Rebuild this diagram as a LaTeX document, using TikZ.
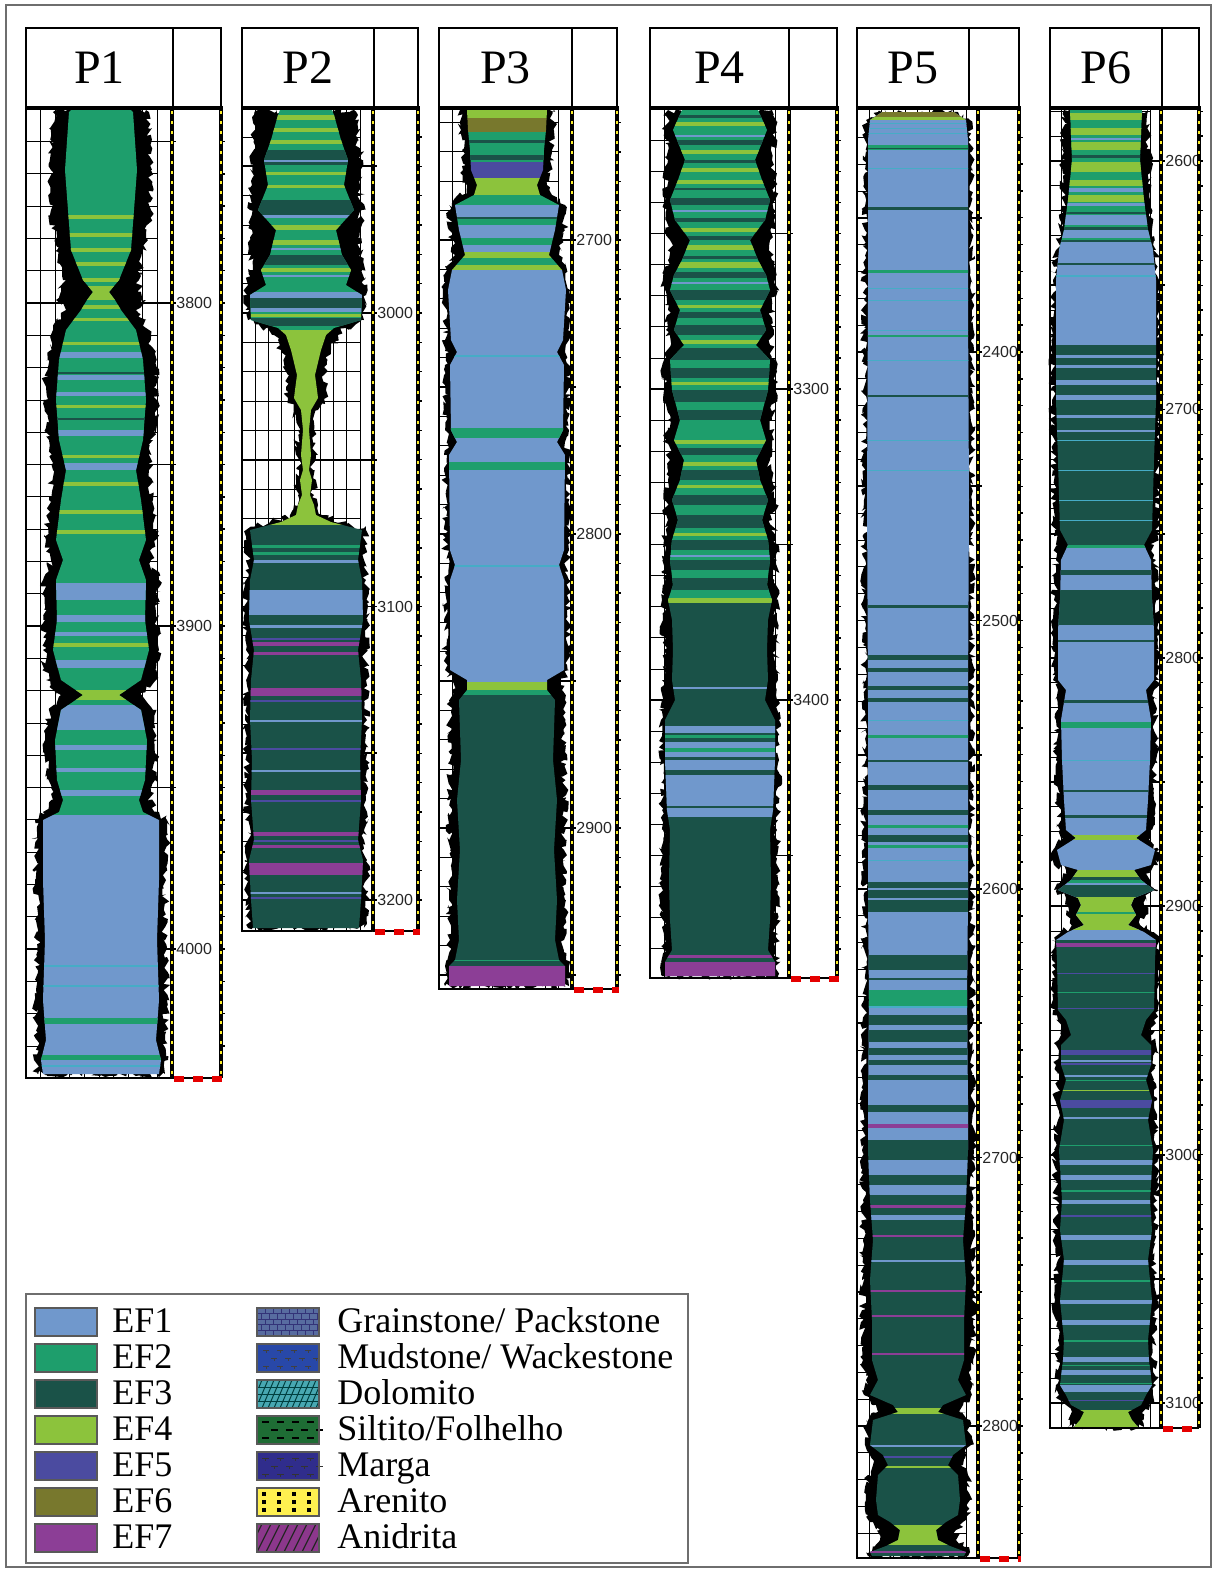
\documentclass[tikz,border=0pt]{standalone}
\usepackage{fontspec}
\setmainfont{Liberation Serif}
\newfontfamily\depthfont{Liberation Sans}
\usepackage{tikz}
\usetikzlibrary{decorations.pathmorphing}

\definecolor{ef1}{RGB}{112,152,204}
\definecolor{ef2}{RGB}{30,158,108}
\definecolor{ef3}{RGB}{26,82,72}
\definecolor{ef4}{RGB}{140,195,60}
\definecolor{ef5}{RGB}{75,75,160}
\definecolor{ef6}{RGB}{120,120,45}
\definecolor{ef7}{RGB}{140,62,150}
\definecolor{efs}{RGB}{70,172,198}
\definecolor{trackyel}{RGB}{250,235,40}
\definecolor{framegray}{RGB}{110,110,110}

\tikzset{
  hdrbox/.style={draw=black, line width=1pt},
  gridthin/.style={black, line width=0.4pt},
  gridthick/.style={black, line width=0.9pt},
  logedge/.style={black, line width=1.1pt},
  welltitle/.style={font=\fontsize{24}{24}\selectfont, inner sep=0pt},
  depthlbl/.style={font=\depthfont\fontsize{8}{8}\selectfont, inner sep=0pt, anchor=west, text=black!85},
  legtxt/.style={font=\fontsize{18}{18}\selectfont, inner sep=0pt, anchor=west, text height=12pt, text depth=2pt},
  swatch/.style={draw=black!65, line width=0.6pt},
  fuzz/.style={fill=black, decorate, decoration={random steps, segment length=1.6pt, amplitude=1.9pt}},
}

% dashed track line (black with yellow dashes)
\newcommand{\trackline}[1]{%
  \draw[black, line width=1.6pt] (#1,108) -- (#1,\wB);
  \draw[trackyel, line width=0.8pt, dash pattern=on 1.3pt off 3.7pt] (#1,111) -- (#1,\wB);
}

% one well: grid, log shape, facies bands, tracks, header
\newcommand{\drawwell}{%
  \gdef\wrev{}%
  \foreach \a in \wprof {\ifx\wrev\empty\xdef\wrev{\a}\else\xdef\wrev{\a,\wrev}\fi}%
  \pgfmathsetmacro{\wS}{(\wD-\wL)/10}%
  \foreach \i in {1,...,9} \draw[gridthin] ({\wL+\i*\wS},108) -- ({\wL+\i*\wS},\wB);
  \foreach \k in {-30,...,55} {
    \pgfmathsetmacro{\yy}{\wY+\k*\wP}
    \pgfmathtruncatemacro{\isin}{(\yy>111)*(\yy<\wB-4)}
    \ifnum\isin=1
      \pgfmathtruncatemacro{\ismaj}{mod(\k+100,5)==0}
      \ifnum\ismaj=1 \draw[gridthick] (\wL,\yy) -- (\wD+4,\yy);
      \else \draw[gridthin] (\wL,\yy) -- ({\wL+9*\wS},\yy); \fi
      \draw[black, line width=0.7pt] (\wR,\yy) -- (\wR+4,\yy);
      \pgfmathtruncatemacro{\islab}{mod(\k+100,10)==0}
      \ifnum\islab=1
        \pgfmathtruncatemacro{\dval}{\wZ+\k*10}
        \node[depthlbl] (\wN-\dval) at (\wD+4,\yy) {\dval};
      \fi
    \fi
  }
  \fill[fuzz] (\wC,\wT) \foreach \hy/\hin/\hout in \wprof {-- ({\wC+\hout},\hy)}
    \foreach \hy/\hin/\hout in \wrev {-- ({\wC-\hout},\hy)} -- cycle;
  \begin{scope}
    \clip (\wC,\wT) \foreach \hy/\hin/\hout in \wprof {-- ({\wC+\hin},\hy)}
      \foreach \hy/\hin/\hout in \wrev {-- ({\wC-\hin},\hy)} -- cycle;
    \foreach \ya/\yb/\fc in \wbands {\fill[\fc] (\wL,\ya) rectangle (\wD,\yb);}
  \end{scope}
  \draw[logedge] (\wL,108) -- (\wL,\wB) -- (\wD,\wB);
  \trackline{\wD}
  \trackline{\wR}
  \draw[black, line width=1.4pt] (\wD,\wB) -- (\wR,\wB);
  \draw[red!90!black, line width=3pt, dash pattern=on 5pt off 4.5pt] (\wD+2,\wB+1) -- (\wR+2,\wB+1);
  \draw[hdrbox] (\wL,28) rectangle (\wR,108);
  \draw[hdrbox] (\wH,28) -- (\wH,108);
  \draw[black, line width=1.6pt] (\wL,108) -- (\wR+2,108);
  \node[welltitle] (\wN-title) at ({(\wL+\wH)/2},68) {\wN};
}

\begin{document}
\begin{tikzpicture}[x=0.5pt, y=-0.5pt]
\pgfmathsetseed{11}
\useasboundingbox (0,0) rectangle (1214,1571);
\draw[framegray, line width=1pt] (6,5) rectangle (1211,1567);

% P1
\begin{scope}
\def\wN{P1}\def\wL{26}\def\wD{172}\def\wR{221}\def\wH{173}\def\wB{1078}
\def\wC{101}\def\wT{110}\def\wY{303}\def\wP{32.3}\def\wZ{3800}
\def\wprof{110/30/45, 112/32/48, 170/36/50, 210/33/50, 250/30/44, 280/18/38, 292/8/40, 300/14/45, 310/20/35, 330/35/48, 360/42/55, 400/45/56, 440/42/52, 470/35/48, 500/40/52, 540/45/55, 560/38/50, 580/45/58, 620/44/56, 650/48/58, 680/40/55, 695/18/40, 710/40/52, 740/46/56, 780/44/54, 800/38/48, 812/42/58, 820/58/66, 880/58/65, 940/56/64, 1000/58/66, 1040/55/64, 1060/60/67, 1074/58/64}
\def\wbands{108/815/ef2, 815/1078/ef1, 215/219/ef4, 233/237/ef4, 248/252/ef4, 262/266/ef4, 278/282/ef4, 286/300/ef4, 305/309/ef4, 318/321/ef4, 342/345/ef4, 352/358/ef1, 375/380/ef1, 392/396/ef1, 430/436/ef1, 463/470/ef1, 405/408/ef4, 455/458/ef4, 482/486/ef4, 510/514/ef4, 530/534/ef4, 372/374/ef3, 418/420/ef3, 583/600/ef1, 615/622/ef1, 632/636/ef1, 660/668/ef1, 705/730/ef1, 745/750/ef1, 768/772/ef1, 790/796/ef1, 643/647/ef4, 690/700/ef4, 965/967/efs, 985/987/efs, 1018/1024/ef2, 1055/1060/ef2, 1065/1067/efs}
\drawwell
\end{scope}

% P2
\begin{scope}
\def\wN{P2}\def\wL{242}\def\wD{373}\def\wR{418}\def\wH{374}\def\wB{931}
\def\wC{306}\def\wT{110}\def\wY{313}\def\wP{29.35}\def\wZ{3000}
\def\wprof{110/26/48, 115/28/52, 140/35/52, 160/42/56, 185/38/54, 210/48/56, 230/30/54, 255/36/55, 270/45/56, 285/40/58, 295/56/60, 320/55/58, 328/28/40, 335/20/32, 350/15/25, 375/9/18, 390/11/20, 398/12/18, 410/5/12, 430/3/8, 455/5/10, 470/3/7, 480/6/10, 495/4/8, 505/8/12, 515/10/16, 522/25/36, 530/56/60, 560/52/58, 580/56/60, 620/57/62, 650/52/60, 680/55/60, 720/56/61, 760/54/60, 800/55/60, 840/52/58, 860/57/61, 900/55/60, 928/53/58}
\def\wbands{108/330/ef2, 330/525/ef4, 525/931/ef3, 115/120/ef4, 128/132/ef4, 140/144/ef4, 150/165/ef3, 160/162/ef1, 172/175/ef4, 185/188/ef4, 200/215/ef3, 215/218/ef1, 225/230/ef4, 240/245/ef4, 248/250/ef1, 255/265/ef3, 268/272/ef4, 275/277/ef1, 292/298/ef1, 298/308/ef3, 308/312/ef1, 314/317/ef4, 318/326/ef3, 545/548/ef2, 552/555/ef2, 560/563/ef1, 590/615/ef1, 625/628/ef1, 638/640/ef5, 642/646/ef7, 652/655/ef7, 688/696/ef7, 700/702/ef5, 720/722/ef1, 748/750/ef5, 770/772/ef1, 790/795/ef7, 800/802/ef5, 832/836/ef7, 840/842/ef5, 845/848/ef7, 863/875/ef7, 892/894/ef1, 897/899/ef5}
\drawwell
\end{scope}

% P3
\begin{scope}
\def\wN{P3}\def\wL{439}\def\wD{572}\def\wR{617}\def\wH{572}\def\wB{989}
\def\wC{507}\def\wT{110}\def\wY{240}\def\wP{29.4}\def\wZ{2700}
\def\wprof{110/40/47, 130/39/46, 150/37/45, 170/36/44, 185/30/40, 195/33/45, 205/52/58, 230/48/58, 255/42/52, 270/55/60, 290/59/63, 340/56/62, 352/50/58, 365/57/62, 430/56/62, 442/50/58, 455/58/63, 550/57/62, 565/52/58, 580/57/62, 670/57/62, 680/40/54, 690/40/55, 700/48/58, 760/46/57, 800/50/58, 850/47/57, 900/50/58, 940/48/57, 960/52/59, 966/58/62, 986/58/62}
\def\wbands{108/118/ef4, 118/132/ef6, 132/162/ef2, 140/143/ef3, 155/160/ef3, 162/178/ef5, 178/195/ef4, 195/205/ef2, 205/217/ef1, 217/219/ef3, 219/225/ef2, 225/238/ef1, 238/245/ef2, 245/252/ef1, 252/258/ef4, 258/265/ef2, 265/270/ef4, 270/682/ef1, 355/357/efs, 565/567/efs, 428/438/ef2, 462/470/ef2, 682/690/ef4, 690/695/ef2, 695/966/ef3, 960/961/ef2, 966/989/ef7}
\drawwell
\end{scope}

% P4
\begin{scope}
\def\wN{P4}\def\wL{650}\def\wD{789}\def\wR{837}\def\wH{789}\def\wB{978}
\def\wC{720}\def\wT{110}\def\wY{700}\def\wP{31.1}\def\wZ{3400}
\def\wprof{110/38/52, 130/47/55, 160/35/52, 180/42/54, 200/50/55, 220/45/54, 240/30/50, 260/38/52, 275/46/55, 290/50/56, 310/40/52, 330/46/54, 345/36/50, 360/50/56, 390/48/56, 420/40/52, 440/46/54, 460/36/50, 480/40/52, 500/48/56, 520/42/52, 540/48/56, 560/50/57, 585/47/56, 600/52/58, 620/48/57, 650/47/56, 680/48/58, 700/45/58, 720/55/59, 760/55/59, 810/53/58, 830/50/57, 880/51/58, 920/50/57, 950/48/56, 962/55/58, 976/55/58}
\def\wbands{108/603/ef2, 603/978/ef3, 115/118/ef3, 122/126/ef4, 135/137/ef1, 140/145/ef3, 150/154/ef4, 160/163/ef3, 168/172/ef4, 180/184/ef4, 188/190/ef3, 198/205/ef3, 210/212/ef1, 218/222/ef3, 228/232/ef4, 236/240/ef3, 245/250/ef4, 256/259/ef3, 262/268/ef4, 272/278/ef3, 282/284/ef1, 290/300/ef3, 305/308/ef4, 312/318/ef3, 325/335/ef3, 340/344/ef4, 348/360/ef3, 368/378/ef3, 382/385/ef4, 390/402/ef3, 410/420/ef3, 440/444/ef4, 448/455/ef3, 462/466/ef4, 470/480/ef3, 485/488/ef4, 495/505/ef3, 515/528/ef3, 533/536/ef4, 540/550/ef3, 555/557/ef1, 560/570/ef3, 578/590/ef3, 598/603/ef4, 687/689/ef1, 726/733/ef1, 735/738/ef2, 742/748/ef1, 748/752/ef2, 752/757/ef1, 760/770/ef1, 775/806/ef1, 808/817/ef1, 955/958/ef7, 962/978/ef7}
\drawwell
\end{scope}

% P5
\begin{scope}
\def\wN{P5}\def\wL{857}\def\wD{978}\def\wR{1019}\def\wH{969}\def\wB{1558}
\def\wC{918}\def\wT{112}\def\wY{889}\def\wP{26.85}\def\wZ{2600}
\def\wprof{112/36/40, 120/48/52, 140/50/53, 300/50/54, 500/51/54, 700/50/54, 900/50/54, 1000/49/54, 1100/50/55, 1150/50/56, 1200/48/55, 1240/45/55, 1280/48/56, 1320/46/55, 1360/46/55, 1380/40/52, 1395/48/54, 1405/25/45, 1412/20/40, 1420/45/52, 1445/48/53, 1455/35/48, 1465/30/45, 1475/40/50, 1500/42/52, 1515/40/50, 1522/28/45, 1530/18/38, 1540/20/38, 1546/32/45, 1552/48/52, 1556/46/50}
\def\wbands{112/1150/ef1, 1150/1558/ef3, 112/117/ef6, 117/120/ef4, 123/124/efs, 128/129/efs, 133/134/efs, 145/150/ef2, 148/149/ef3, 168/169/efs, 207/210/ef3, 270/273/ef2, 288/289/efs, 300/301/efs, 330/331/efs, 335/337/ef2, 360/361/efs, 395/397/ef3, 440/441/efs, 470/471/efs, 605/608/ef3, 655/660/ef3, 668/672/ef3, 686/690/ef3, 698/702/ef3, 720/721/efs, 735/738/ef2, 760/762/ef3, 785/790/ef3, 810/815/ef3, 825/828/ef2, 835/842/ef3, 845/848/ef2, 860/861/efs, 882/888/ef3, 890/898/ef3, 900/912/ef3, 955/970/ef3, 978/980/ef3, 990/1007/ef2, 1006/1008/efs, 1015/1025/ef3, 1030/1042/ef3, 1048/1055/ef3, 1060/1065/ef3, 1075/1080/ef3, 1105/1112/ef3, 1124/1128/ef7, 1140/1150/ef3, 1160/1175/ef1, 1185/1195/ef1, 1205/1208/ef7, 1215/1220/ef1, 1235/1237/ef7, 1260/1262/ef1, 1290/1292/ef7, 1315/1317/ef7, 1353/1355/ef7, 1408/1414/ef4, 1445/1447/ef1, 1456/1458/ef5, 1466/1468/ef4, 1525/1545/ef4, 1551/1553/ef7}
\drawwell
\end{scope}

% P6
\begin{scope}
\def\wN{P6}\def\wL{1050}\def\wD{1161}\def\wR{1199}\def\wH{1162}\def\wB{1428}
\def\wC{1106}\def\wT{110}\def\wY{161}\def\wP{24.84}\def\wZ{2600}
\def\wprof{110/36/42, 160/34/44, 200/38/43, 230/42/46, 250/47/50, 280/50/53, 345/50/54, 400/50/54, 460/48/53, 530/46/52, 545/38/48, 560/45/50, 600/46/52, 630/48/53, 680/48/53, 690/40/48, 720/45/50, 760/44/50, 800/42/48, 830/40/46, 838/30/42, 850/49/53, 865/45/52, 870/28/40, 880/35/44, 890/48/52, 898/28/40, 905/25/38, 915/30/40, 925/22/34, 932/38/46, 940/50/54, 960/49/54, 1010/48/53, 1020/40/48, 1035/35/45, 1045/45/50, 1065/45/50, 1080/40/47, 1100/46/51, 1120/42/48, 1150/47/52, 1200/44/50, 1230/46/51, 1260/42/48, 1300/46/51, 1340/42/48, 1360/43/48, 1385/46/50, 1395/40/47, 1405/35/44, 1412/22/34, 1420/26/36, 1427/32/38}
\def\wbands{108/250/ef2, 250/345/ef1, 345/545/ef3, 545/940/ef1, 940/1428/ef3, 113/120/ef4, 128/135/ef4, 138/140/ef1, 142/150/ef4, 155/158/ef3, 162/172/ef4, 180/186/ef4, 188/192/ef1, 195/202/ef4, 203/206/ef1, 212/214/ef3, 215/225/ef1, 227/230/ef3, 230/238/ef1, 240/242/ef3, 242/250/ef1, 263/265/ef3, 275/277/efs, 355/358/ef1, 365/368/ef1, 380/385/ef1, 395/400/ef1, 415/418/ef1, 430/432/ef1, 440/441/efs, 470/471/efs, 500/501/efs, 520/521/efs, 545/548/ef2, 570/575/ef3, 590/625/ef3, 640/642/ef3, 700/703/ef3, 722/728/ef2, 760/761/efs, 790/792/ef3, 815/818/ef3, 835/840/ef4, 870/877/ef4, 877/880/ef3, 880/883/ef2, 885/897/ef3, 897/930/ef4, 912/914/ef2, 943/947/ef7, 973/974/ef5, 992/993/ef2, 1008/1009/ef5, 1050/1055/ef5, 1060/1062/ef1, 1063/1065/ef5, 1075/1077/ef1, 1080/1081/ef2, 1090/1091/ef4, 1100/1108/ef5, 1117/1119/ef1, 1145/1146/ef2, 1160/1165/ef1, 1175/1180/ef1, 1190/1192/ef2, 1200/1204/ef1, 1215/1217/ef5, 1235/1240/ef1, 1260/1265/ef1, 1280/1282/ef2, 1300/1304/ef1, 1320/1325/ef1, 1340/1342/ef2, 1357/1362/ef1, 1365/1366/ef2, 1370/1375/ef1, 1383/1384/ef2, 1385/1392/ef1, 1400/1401/ef5, 1410/1428/ef4}
\drawwell
\end{scope}

% legend
\draw[framegray, line width=0.9pt] (26,1294) rectangle (688,1563);
\foreach \k/\fc/\lab in {0/ef1/EF1, 1/ef2/EF2, 2/ef3/EF3, 3/ef4/EF4, 4/ef5/EF5, 5/ef6/EF6, 6/ef7/EF7} {
  \pgfmathsetmacro{\yc}{1322+36*\k}
  \draw[swatch, fill=\fc] (35,\yc-14) rectangle (97,\yc+14);
  \node[legtxt] (leg-\lab) at (112,\yc) {\lab};
}
% Grainstone/ Packstone
\begin{scope}
  \clip (257,1308) rectangle (319,1336);
  \fill[fill={rgb,255:red,88;green,108;blue,160}] (257,1308) rectangle (319,1336);
  \foreach \r in {0,...,5} {
    \draw[black!55!blue!60!gray, line width=0.5pt] (257,1308+\r*5.6) -- (319,1308+\r*5.6);
    \foreach \c in {0,...,8} \draw[black!55!blue!60!gray, line width=0.5pt] ({257+\c*8+mod(\r,2)*4},1308+\r*5.6) -- ++(0,5.6);
  }
\end{scope}
\draw[swatch] (257,1308) rectangle (319,1336);
\node[legtxt] (leg-gp) at (337,1322) {Grainstone/ Packstone};
% Mudstone/ Wackestone
\fill[fill={rgb,255:red,40;green,72;blue,168}] (257,1344) rectangle (319,1372);
\foreach \r/\o in {0/0, 1/8, 2/0}
  \foreach \c in {0,...,3}
    \draw[black!75, line width=0.5pt] (263+\o+\c*14,1350+\r*8) -- ++(6,0) ++(-3,0) -- ++(0,3);
\draw[swatch] (257,1344) rectangle (319,1372);
\node[legtxt] (leg-mw) at (337,1358) {Mudstone/ Wackestone};
% Dolomito
\begin{scope}
  \clip (257,1380) rectangle (319,1408);
  \fill[fill={rgb,255:red,72;green,168;blue,178}] (257,1380) rectangle (319,1408);
  \foreach \r in {0,...,3} {
    \draw[black!50!teal, line width=0.5pt] (257,1380+\r*7) -- (319,1380+\r*7);
    \foreach \c in {0,...,10} \draw[black!50!teal, line width=0.5pt] ({259+\c*6+mod(\r,2)*3},1387+\r*7) -- ++(3,-7);
  }
\end{scope}
\draw[swatch] (257,1380) rectangle (319,1408);
\node[legtxt] (leg-do) at (337,1394) {Dolomito};
% Siltito/Folhelho
\fill[fill={rgb,255:red,30;green,108;blue,52}] (257,1416) rectangle (319,1444);
\foreach \r/\o in {0/0, 1/9, 2/0}
  \foreach \c in {0,...,3}
    \draw[black, line width=0.6pt] (262+\o+\c*15,1422+\r*8) -- ++(7,0);
\draw[swatch] (257,1416) rectangle (319,1444);
\node[legtxt] (leg-sf) at (337,1430) {Siltito/Folhelho};
% Marga
\fill[fill={rgb,255:red,48;green,45;blue,140}] (257,1452) rectangle (319,1480);
\foreach \r/\o in {0/0, 1/9, 2/0}
  \foreach \c in {0,...,3}
    \draw[black!80, line width=0.5pt] (262+\o+\c*15,1458+\r*8) -- ++(7,0) ++(-3.5,0) -- ++(0,3);
\draw[swatch] (257,1452) rectangle (319,1480);
\node[legtxt] (leg-ma) at (337,1466) {Marga};
% Arenito
\fill[fill={rgb,255:red,255;green,240;blue,80}] (257,1488) rectangle (319,1516);
\foreach \r in {0,1,2}
  \foreach \c in {0,...,3}
    \fill[black] (262+\c*15,1492+\r*8) rectangle ++(4,4);
\draw[swatch] (257,1488) rectangle (319,1516);
\node[legtxt] (leg-ar) at (337,1502) {Arenito};
% Anidrita
\begin{scope}
  \clip (257,1524) rectangle (319,1552);
  \fill[fill={rgb,255:red,140;green,55;blue,140}] (257,1524) rectangle (319,1552);
  \foreach \i in {-3,...,7} \draw[black!85, line width=0.6pt] (257+\i*9,1552) -- ++(14,-28);
\end{scope}
\draw[swatch] (257,1524) rectangle (319,1552);
\node[legtxt] (leg-an) at (337,1538) {Anidrita};

\end{tikzpicture}
\end{document}
